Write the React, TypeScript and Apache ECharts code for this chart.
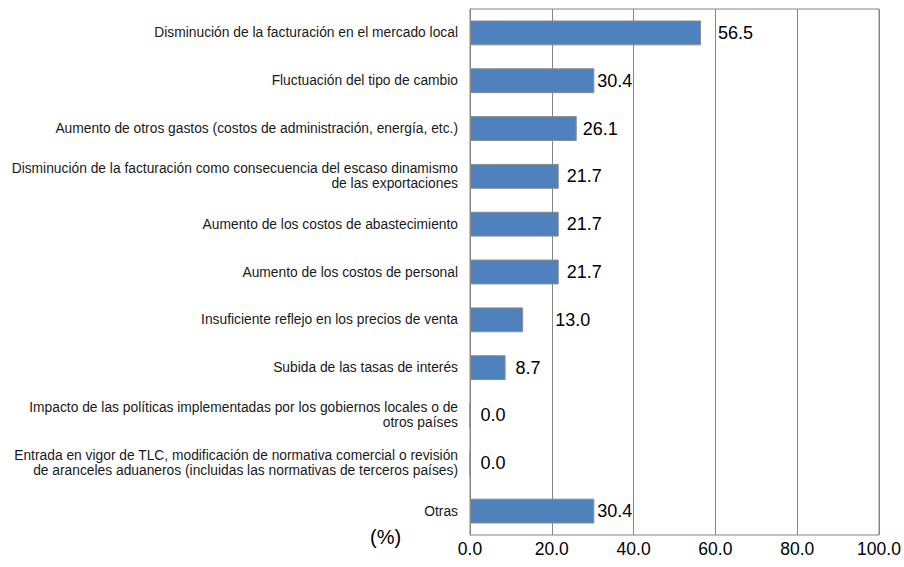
import React, { useEffect, useRef } from "react";
import * as echarts from "echarts";

const categories = [
  "Disminución de la facturación en el mercado local",
  "Fluctuación del tipo de cambio",
  "Aumento de otros gastos (costos de administración, energía, etc.)",
  "Disminución de la facturación como consecuencia del escaso dinamismo\nde las exportaciones",
  "Aumento de los costos de abastecimiento",
  "Aumento de los costos de personal",
  "Insuficiente reflejo en los precios de venta",
  "Subida de las tasas de interés",
  "Impacto de las políticas implementadas por los gobiernos locales o de\notros países",
  "Entrada en vigor de TLC, modificación de normativa comercial o revisión\nde aranceles aduaneros (incluidas las normativas de terceros países)",
  "Otras",
];

const values = [56.5, 30.4, 26.1, 21.7, 21.7, 21.7, 13.0, 8.7, 0.0, 0.0, 30.4];

const tickValues = [0, 20, 40, 60, 80, 100];

// label gap from bar end (px), as placed in the reference
const labelGaps = [17, 3, 6, 8, 8, 8, 32, 10, 10, 10, 3];

export default function App() {
  const ref = useRef<HTMLDivElement>(null);
  useEffect(() => {
    if (!ref.current) return;
    const chart = echarts.init(ref.current, null, { renderer: "svg" });
    chart.setOption({
      animation: false,
      grid: { left: 470, right: 25, top: 9, bottom: 32, containLabel: false, show: true, borderColor: "#868686", borderWidth: 1 },
      xAxis: {
        type: "value",
        min: 0,
        max: 100,
        interval: 20,
        axisLine: { show: false },
        axisTick: { show: false },
        splitLine: { show: true, lineStyle: { color: "#868686", width: 1 } },
        axisLabel: {
          formatter: (v: number) => (tickValues.includes(v) ? v.toFixed(1) : ""),
          fontFamily: "Liberation Sans",
          fontSize: 17.5,
          color: "#000",
          margin: 5,
        },
      },
      yAxis: {
        type: "category",
        inverse: true,
        data: categories,
        axisLine: { show: true, lineStyle: { color: "#868686" } },
        axisTick: { show: false },
        axisLabel: {
          fontFamily: "Liberation Sans",
          fontSize: 13.8,
          lineHeight: 15,
          color: "#1a1a1a",
          margin: 12,
          align: "right",
        },
      },
      graphic: [
        {
          type: "text",
          left: 370,
          top: 527,
          style: { text: "(%)", font: "20px 'Liberation Sans'", fill: "#000" },
        },
      ],
      series: [
        {
          type: "bar",
          barWidth: "52%",
          data: values.map((v, i) => ({
            value: v,
            label: { distance: labelGaps[i] },
          })),
          itemStyle: { color: "#4F81BD", borderColor: "#8C8C8C", borderWidth: 1 },
          label: {
            show: true,
            position: "right",
            formatter: (p: any) => Number(p.value).toFixed(1),
            fontFamily: "Liberation Sans",
            fontSize: 18,
            color: "#000",
          },
        },
      ],
    });
    return () => chart.dispose();
  }, []);
  return <div ref={ref} style={{ width: 904, height: 567, position: "absolute", left: 0, top: 0 }} />;
}
